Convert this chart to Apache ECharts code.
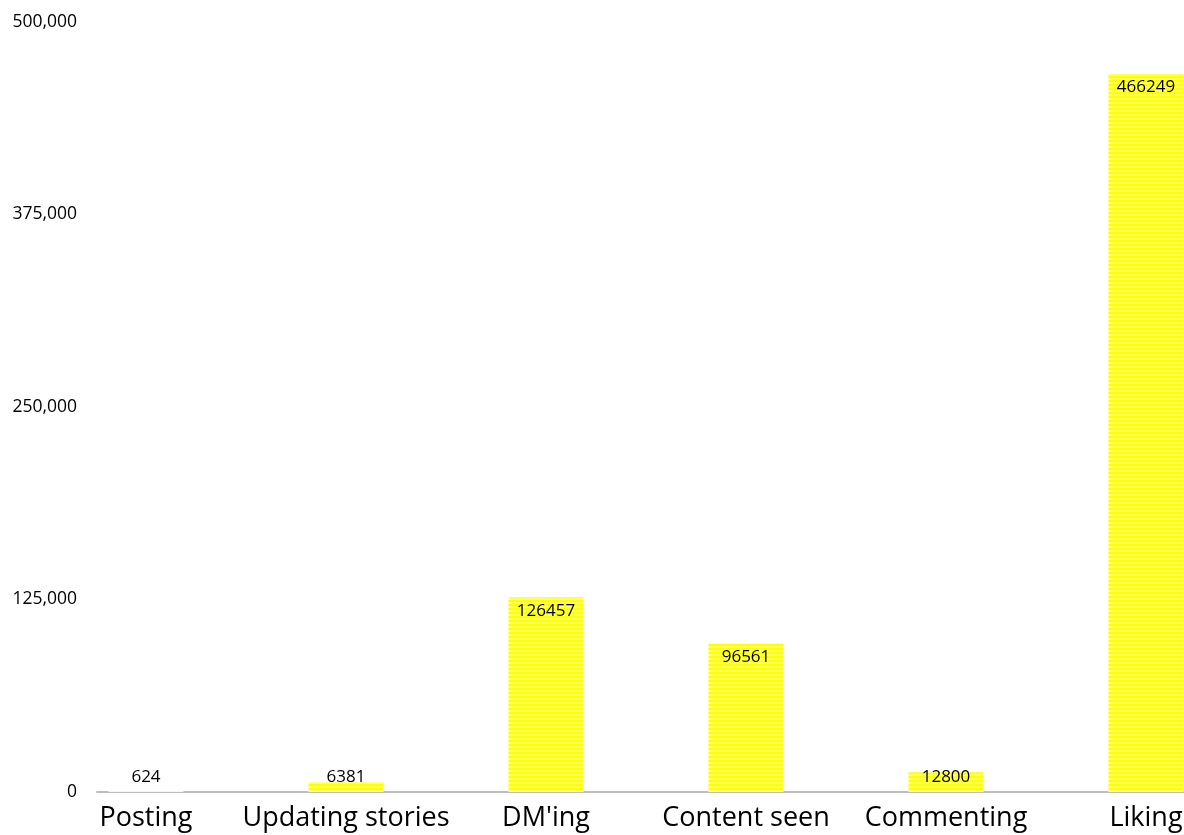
<!DOCTYPE html>
<html>
<head>
<meta charset="utf-8">
<script src="https://cdn.jsdelivr.net/npm/echarts@6/dist/echarts.min.js"></script>
<style>
  html, body { margin: 0; padding: 0; background: #fff; overflow: hidden; }
  /* the plot runs past the right edge of the window, as in the original */
  #chart { width: 1246px; height: 835px; }
</style>
</head>
<body>
<div id="chart"></div>
<script>
// activity counts
const categories = ['Posting', 'Updating stories', "DM'ing", 'Content seen', 'Commenting', 'Liking'];
const counts = [624, 6381, 126457, 96561, 12800, 466249];
const yTicks = { min: 0, max: 500000, step: 125000 };

// striped yellow fill like the original bar pattern
function stripes() {
  const c = document.createElement('canvas');
  c.width = 4; c.height = 4;
  const g = c.getContext('2d');
  const rows = ['#ffff00', '#ffff00', '#ffff5c', '#ffffb0'];
  rows.forEach((col, i) => { g.fillStyle = col; g.fillRect(0, i, 4, 1); });
  return c;
}

const font = '"Open Sans", "Liberation Sans", sans-serif';
const chart = echarts.init(document.getElementById('chart'));
chart.setOption({
  animation: false,
  grid: [
    // labels are cut off at the bottom edge in the original, so don't let v6 shrink the grid
    { left: 46, top: 22, right: 0, bottom: 43, outerBoundsMode: 'none' },
    { left: 97, top: 22, right: 62, bottom: 43, outerBoundsMode: 'none' }
  ],
  xAxis: [
    {
      type: 'category', data: categories, gridIndex: 0,
      axisLine: { show: false }, axisTick: { show: false },
      axisLabel: { color: '#000', fontSize: 27, fontFamily: font, margin: 13, interval: 0 }
    },
    {
      type: 'category', data: [''], gridIndex: 1,
      axisLine: { show: true, lineStyle: { color: '#bfbfbf', width: 2 } },
      axisTick: { show: false }, axisLabel: { show: false }
    }
  ],
  yAxis: [
    {
      type: 'value', gridIndex: 0, min: yTicks.min, max: yTicks.max, interval: yTicks.step,
      show: false, splitLine: { show: false }
    },
    {
      type: 'value', gridIndex: 1, min: yTicks.min, max: yTicks.max, interval: yTicks.step,
      axisLine: { show: false }, axisTick: { show: false }, splitLine: { show: false },
      axisLabel: {
        color: '#000', fontSize: 17.5, fontFamily: font, margin: 20,
        formatter: v => v.toLocaleString('en-US')
      }
    }
  ],
  series: [{
    type: 'bar',
    xAxisIndex: 0, yAxisIndex: 0,
    barWidth: 75,
    data: counts.map(v => ({
      value: v,
      label: v > 30000
        ? { position: 'insideTop', distance: 5 }
        : { position: 'insideBottom', distance: 6 }
    })),
    itemStyle: { color: { image: stripes(), repeat: 'repeat' } },
    label: { show: true, color: '#000', fontSize: 17, fontFamily: font }
  }]
});
</script>
</body>
</html>
